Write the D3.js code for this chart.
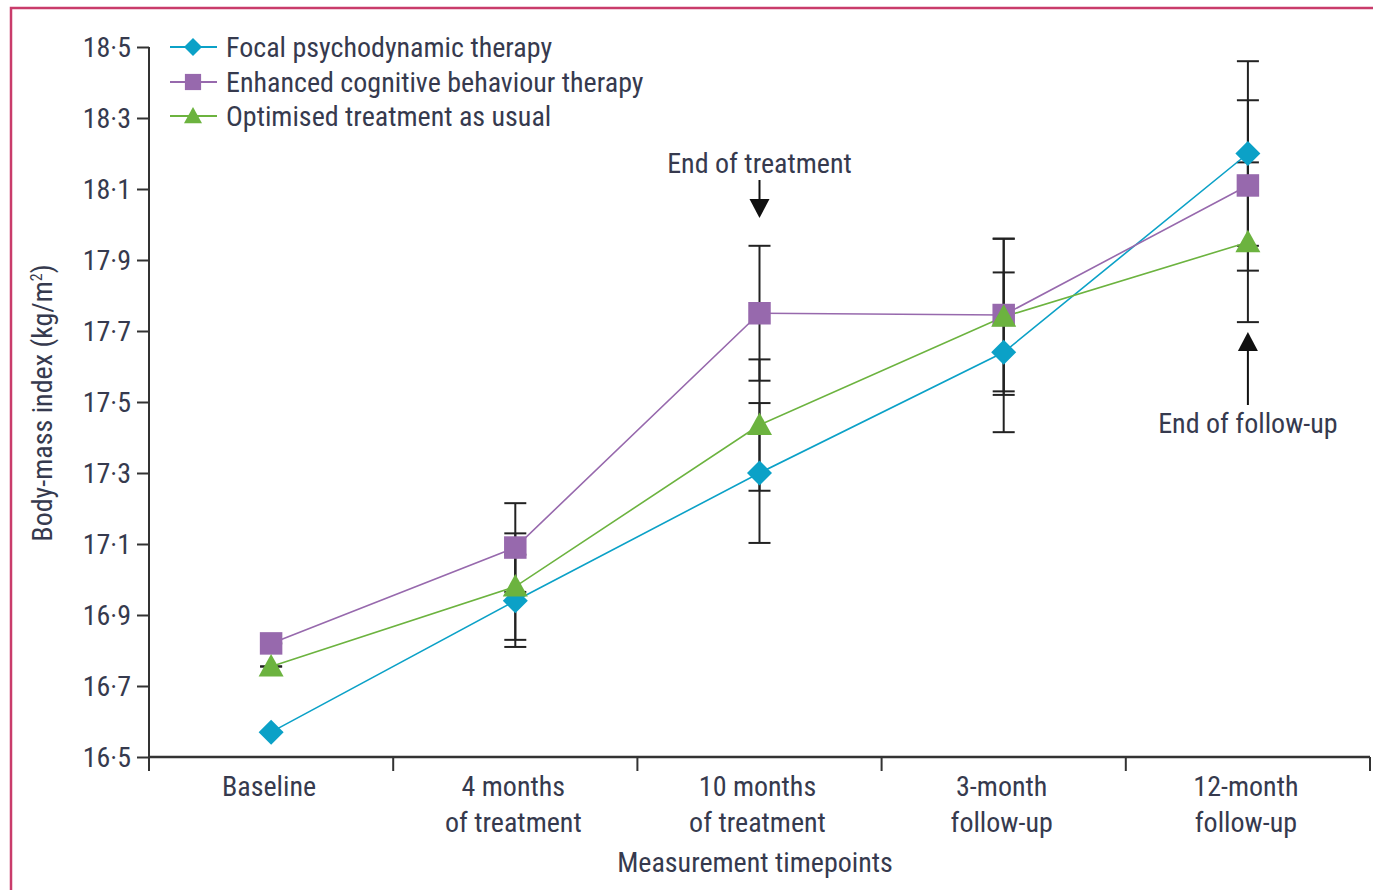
<!DOCTYPE html>
<html>
<head>
<meta charset="utf-8">
<script src="https://cdn.jsdelivr.net/npm/d3@7"></script>
<style>
  html, body { margin: 0; padding: 0; background: #fff; }
  svg { display: block; }
  text { font-family: "Liberation Sans Narrow", "Roboto Condensed", "Liberation Sans", sans-serif; fill: #363a4e; }
</style>
</head>
<body>
<svg id="chart" width="1373" height="890"></svg>
<script>
// ---- Data ----
const timepoints = ["Baseline", "4 months|of treatment", "10 months|of treatment", "3-month|follow-up", "12-month|follow-up"];
const seriesNames = ["Focal psychodynamic therapy", "Enhanced cognitive behaviour therapy", "Optimised treatment as usual"];
const fptValues  = [16.57, 16.94, 17.30, 17.64, 18.20];
const fptErr     = [0.00, 0.13, 0.197, 0.225, 0.26];
const ecbtValues = [16.82, 17.09, 17.75, 17.745, 18.11];
const ecbtErr    = [0.00, 0.125, 0.19, 0.215, 0.24];
const otauValues = [16.755, 16.98, 17.435, 17.74, 17.95];
const otauErr    = [0.00, 0.15, 0.185, 0.22, 0.225];
const yTicks = [16.5, 16.7, 16.9, 17.1, 17.3, 17.5, 17.7, 17.9, 18.1, 18.3, 18.5];
const annotations = [
  { label: "End of treatment", index: 2, dir: "down" },
  { label: "End of follow-up", index: 4, dir: "up" }
];

const colors = ["#0ba1c7", "#9769ad", "#6cb33f"];

const series = [
  { name: seriesNames[0], values: fptValues, err: fptErr, color: colors[0], sym: "diamond" },
  { name: seriesNames[1], values: ecbtValues, err: ecbtErr, color: colors[1], sym: "square" },
  { name: seriesNames[2], values: otauValues, err: otauErr, color: colors[2], sym: "triangle" }
];

const FS = "28px";
const svg = d3.select("#chart");

// border
svg.append("path")
  .attr("d", "M11,890 L11,8 L1373,8")
  .attr("fill", "none").attr("stroke", "#c93c6b").attr("stroke-width", 2.5);

const mLeft = 149, mRight = 1370, mTop = 47, mBottom = 757;
const x = d3.scaleBand().domain(timepoints).range([mLeft, mRight]);
const y = d3.scaleLinear().domain([16.5, 18.5]).range([mBottom, mTop]);
const cx = d => x(d) + x.bandwidth() / 2;

function markerPath(sym, size) {
  const h = size / 2;
  if (sym === "diamond") return `M0,${-h}L${h},0L0,${h}L${-h},0Z`;
  if (sym === "square") { const s = h * 0.9; return `M${-s},${-s}H${s}V${s}H${-s}Z`; }
  const t = h; return `M0,${-t}L${t},${t*0.8}L${-t},${t*0.8}Z`;
}

// axes
const yAxis = d3.axisLeft(y).tickValues(yTicks).tickSize(12).tickPadding(6)
  .tickFormat(d => d3.format(".1f")(d).replace(".", "·"));
const gy = svg.append("g").attr("transform", `translate(${mLeft},0)`).call(yAxis);
gy.selectAll("path, line").attr("stroke", "#333").attr("stroke-width", 2);
gy.selectAll("text").style("font-size", FS).attr("fill", "#363a4e").attr("dy", "0.34em");
gy.select(".domain").attr("d", `M0,${mBottom}V${mTop}`);

const gx = svg.append("g").attr("transform", `translate(0,${mBottom})`);
gx.append("line").attr("x1", mLeft).attr("x2", mRight).attr("stroke", "#333").attr("stroke-width", 2.5);
const bounds = timepoints.map(t => x(t)).concat([mRight]);
gx.selectAll("line.tk").data(bounds).join("line").attr("class", "tk")
  .attr("x1", d => d).attr("x2", d => d).attr("y1", 0).attr("y2", 14)
  .attr("stroke", "#333").attr("stroke-width", 2);
gx.selectAll("text.lbl").data(timepoints).join("text").attr("class", "lbl")
  .attr("text-anchor", "middle").style("font-size", FS)
  .each(function(d) {
    const parts = d.split("|");
    const t = d3.select(this);
    parts.forEach((p, i) => {
      t.append("tspan").attr("x", cx(d) - 2).attr("y", 39 + i * 36).text(p);
    });
  });

svg.append("text").attr("x", 755).attr("y", 872).attr("text-anchor", "middle")
  .style("font-size", FS).text("Measurement timepoints");

const yl = svg.append("text").attr("transform", `translate(52,${403}) rotate(-90)`)
  .attr("text-anchor", "middle").style("font-size", FS);
yl.append("tspan").text("Body-mass index (kg/m");
yl.append("tspan").attr("dy", -10).style("font-size", "16px").text("2");
yl.append("tspan").attr("dy", 10).text(")");

// error bars
const capW = 11;
series.forEach(s => {
  const g = svg.append("g");
  s.values.forEach((v, i) => {
    const xc = cx(timepoints[i]);
    const lo = v - s.err[i], hi = v + s.err[i];
    g.append("line").attr("x1", xc).attr("x2", xc).attr("y1", y(lo)).attr("y2", y(hi))
      .attr("stroke", "#222").attr("stroke-width", 2);
    [lo, hi].forEach(e => g.append("line").attr("x1", xc - capW).attr("x2", xc + capW)
      .attr("y1", y(e)).attr("y2", y(e)).attr("stroke", "#222").attr("stroke-width", 2));
  });
});

// lines
const line = d3.line().x((d, i) => cx(timepoints[i])).y(d => y(d));
series.forEach(s => {
  svg.append("path").datum(s.values).attr("d", line)
    .attr("fill", "none").attr("stroke", s.color).attr("stroke-width", 1.6);
});

// markers
series.forEach(s => {
  svg.append("g").selectAll("path").data(s.values).join("path")
    .attr("transform", (d, i) => `translate(${cx(timepoints[i])},${y(d)})`)
    .attr("d", markerPath(s.sym, 25))
    .attr("fill", s.color);
});

// annotations
annotations.forEach(a => {
  const xc = cx(timepoints[a.index]);
  const g = svg.append("g");
  if (a.dir === "down") {
    g.append("text").attr("x", xc).attr("y", 173).attr("text-anchor", "middle").style("font-size", FS).text(a.label);
    g.append("line").attr("x1", xc).attr("x2", xc).attr("y1", 180).attr("y2", 202).attr("stroke", "#111").attr("stroke-width", 2);
    g.append("path").attr("d", `M${xc - 10},199L${xc + 10},199L${xc},218Z`).attr("fill", "#111");
  } else {
    g.append("text").attr("x", xc).attr("y", 433).attr("text-anchor", "middle").style("font-size", FS).text(a.label);
    g.append("line").attr("x1", xc).attr("x2", xc).attr("y1", 405).attr("y2", 348).attr("stroke", "#111").attr("stroke-width", 2);
    g.append("path").attr("d", `M${xc - 10},351L${xc + 10},351L${xc},332Z`).attr("fill", "#111");
  }
});

// legend
const legendY = [47, 82, 116];
series.forEach((s, i) => {
  const g = svg.append("g").attr("transform", `translate(0,${legendY[i]})`);
  g.append("line").attr("x1", 170).attr("x2", 217).attr("stroke", s.color).attr("stroke-width", 1.8);
  g.append("path").attr("transform", "translate(193,0)").attr("d", markerPath(s.sym, 18)).attr("fill", s.color);
  g.append("text").attr("x", 226).attr("y", 10).style("font-size", FS).text(s.name);
});
</script>
</body>
</html>
